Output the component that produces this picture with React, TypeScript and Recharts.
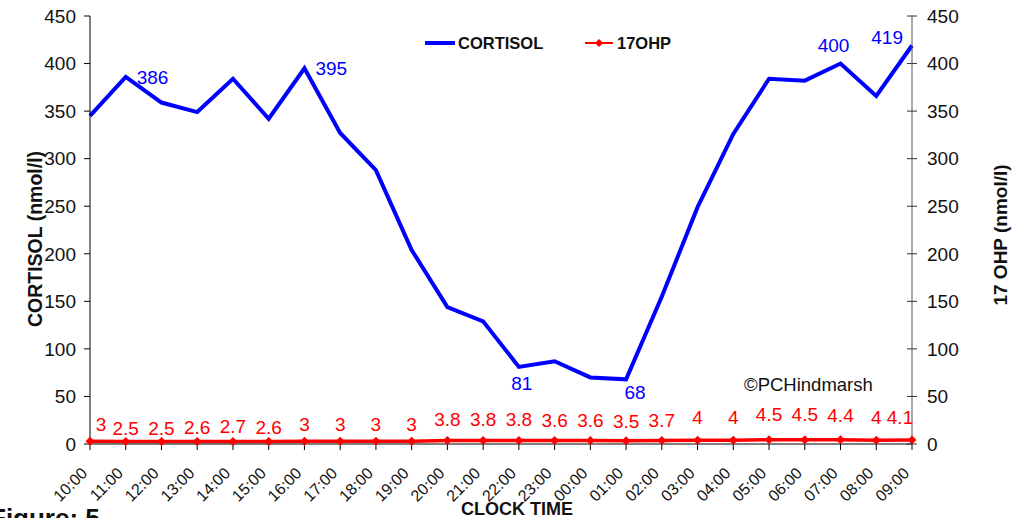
import React from "react";
import {
  LineChart,
  Line,
  XAxis,
  YAxis,
  Legend,
  LabelList,
} from "recharts";

const HOURS = [
  "10:00", "11:00", "12:00", "13:00", "14:00", "15:00", "16:00", "17:00",
  "18:00", "19:00", "20:00", "21:00", "22:00", "23:00", "00:00", "01:00",
  "02:00", "03:00", "04:00", "05:00", "06:00", "07:00", "08:00", "09:00",
];
const CORTISOL = [
  345, 386, 359, 349, 384, 342, 395, 327, 288, 204, 144, 129,
  81, 87, 70, 68, 155, 249, 326, 384, 382, 400, 366, 419,
];
const OHP17 = [
  3, 2.5, 2.5, 2.6, 2.7, 2.6, 3, 3, 3, 3, 3.8, 3.8,
  3.8, 3.6, 3.6, 3.5, 3.7, 4, 4, 4.5, 4.5, 4.4, 4, 4.1,
];
const Y_TICKS = [0, 50, 100, 150, 200, 250, 300, 350, 400, 450];
// which cortisol points get a value label, and where it sits
const CORTISOL_LABELS: Record<number, "right" | "below" | "belowRight" | "above" | "aboveLeft"> = {
  1: "right",
  6: "right",
  12: "below",
  15: "belowRight",
  21: "above",
  23: "aboveLeft",
};

const BLUE = "#0000ff";
const RED = "#ff0000";
const INK = "#111";
const FONT = "'Liberation Sans', Arial, sans-serif";

const data = HOURS.map((h, i) => ({ hour: h, cortisol: CORTISOL[i], ohp: OHP17[i] }));

function XTick({ x, y, payload }: any) {
  return (
    <g transform={`translate(${x},${y})`}>
      <text
        x={-17}
        y={9}
        transform="rotate(-45)"
        textAnchor="end"
        dominantBaseline="central"
        fontSize={16}
        fontFamily={FONT}
        fill={INK}
      >
        {payload.value}
      </text>
    </g>
  );
}

function RightTick({ x, y, payload }: any) {
  const ax = x - 15;
  return (
    <g>
      <line x1={ax - 5} x2={ax + 5} y1={y} y2={y} stroke="#333" />
      <text x={x} y={y} dy="0.355em" textAnchor="start" fontSize={19} fontFamily={FONT} fill={INK}>
        {payload.value}
      </text>
    </g>
  );
}

function Diamond({ cx, cy }: any) {
  if (cx == null || cy == null) return null;
  return <polygon points={`${cx},${cy - 4.5} ${cx + 4.5},${cy} ${cx},${cy + 4.5} ${cx - 4.5},${cy}`} fill={RED} />;
}

function CortisolLabel({ x, y, value, index }: any) {
  const pos = CORTISOL_LABELS[index];
  if (!pos) return null;
  let tx = x;
  let ty = y;
  let anchor: "start" | "middle" | "end" = "middle";
  if (pos === "right") {
    tx = x + 11;
    anchor = "start";
  } else if (pos === "below") {
    tx = x + 3;
    ty = y + 16;
  } else if (pos === "belowRight") {
    tx = x + 9;
    ty = y + 13;
  } else if (pos === "above") {
    tx = x - 7;
    ty = y - 18;
  } else {
    tx = x - 9;
    ty = y - 8;
    anchor = "end";
  }
  return (
    <text x={tx} y={ty} dy="0.355em" textAnchor={anchor} fontSize={19} fontFamily={FONT} fill={BLUE}>
      {value}
    </text>
  );
}

// Excel-style label: lifted more for larger values, kept inside the plot at the ends
function OhpLabel({ x, y, value, index }: any) {
  const lift = 6 * value - 1.5;
  let tx = x;
  if (index === 0) tx = x + 11;
  if (index === OHP17.length - 1) tx = x - 12;
  return (
    <text x={tx} y={y - lift} dy="0.355em" textAnchor="middle" fontSize={19} fontFamily={FONT} fill={RED}>
      {value}
    </text>
  );
}

function LegendBox() {
  return (
    <svg width={300} height={20} style={{ display: "block" }}>
      <line x1={5} x2={35} y1={10} y2={10} stroke={BLUE} strokeWidth={4} />
      <text x={38} y={10} dy="0.355em" fontFamily={FONT} fontWeight="bold" fontSize={16.5} fill={INK}>
        CORTISOL
      </text>
      <line x1={165} x2={193} y1={10} y2={10} stroke={RED} strokeWidth={2} />
      <polygon points="179,6 183,10 179,14 175,10" fill={RED} />
      <text x={197} y={10} dy="0.355em" fontFamily={FONT} fontWeight="bold" fontSize={16.5} fill={INK}>
        17OHP
      </text>
    </svg>
  );
}

export default function App() {
  return (
    <div style={{ position: "absolute", left: 0, top: 0, width: 1019, height: 518, background: "#fff", overflow: "hidden" }}>
      <LineChart
        width={1019}
        height={518}
        data={data}
        margin={{ top: 16, right: 32, left: 0, bottom: 14 }}
      >
        <XAxis
          dataKey="hour"
          interval={0}
          height={60}
          tick={<XTick />}
          tickSize={6}
          tickMargin={2}
          axisLine={{ stroke: "#000" }}
          tickLine={{ stroke: "#000" }}
        />
        <YAxis
          yAxisId="left"
          width={90}
          domain={[0, 450]}
          ticks={Y_TICKS}
          tickSize={6}
          tickMargin={8}
          tick={{ fontSize: 19, fontFamily: FONT, fill: INK }}
          axisLine={{ stroke: "#000" }}
          tickLine={{ stroke: "#000" }}
          label={({ viewBox }: any) => (
            <text
              transform={`translate(${viewBox.x + 35},${viewBox.y + viewBox.height / 2 + 9}) rotate(-90)`}
              textAnchor="middle"
              dominantBaseline="central"
              fontSize={19.5}
              fontWeight="bold"
              fontFamily={FONT}
              fill={INK}
            >
              CORTISOL (nmol/l)
            </text>
          )}
        />
        <YAxis
          yAxisId="right"
          orientation="right"
          width={75}
          domain={[0, 450]}
          ticks={Y_TICKS}
          tickSize={5}
          tickMargin={10}
          tickLine={false}
          tick={<RightTick />}
          axisLine={{ stroke: "#555" }}
          label={({ viewBox }: any) => (
            <text
              transform={`translate(${viewBox.x + 88},${viewBox.y + viewBox.height / 2 + 5}) rotate(-90)`}
              textAnchor="middle"
              dominantBaseline="central"
              fontSize={19}
              fontWeight="bold"
              fontFamily={FONT}
              fill={INK}
            >
              17 OHP (nmol/l)
            </text>
          )}
        />
        <Legend
          layout="horizontal"
          align="center"
          verticalAlign="middle"
          content={<LegendBox />}
          wrapperStyle={{ position: "absolute", top: 33, left: 420, width: 300 }}
        />
        <Line
          yAxisId="left"
          type="linear"
          dataKey="cortisol"
          name="CORTISOL"
          stroke={BLUE}
          strokeWidth={4}
          dot={false}
          isAnimationActive={false}
        >
          <LabelList dataKey="cortisol" content={<CortisolLabel />} />
        </Line>
        <Line
          yAxisId="right"
          type="linear"
          dataKey="ohp"
          name="17OHP"
          stroke={RED}
          strokeWidth={3.5}
          dot={<Diamond />}
          isAnimationActive={false}
        >
          <LabelList dataKey="ohp" content={<OhpLabel />} />
        </Line>
      </LineChart>
      <div style={{ position: "absolute", left: 744, top: 374, fontFamily: FONT, fontSize: 18.5, color: INK, whiteSpace: "nowrap" }}>
        ©PCHindmarsh
      </div>
      <div style={{ position: "absolute", left: 461, top: 499, fontFamily: FONT, fontSize: 18, fontWeight: "bold", color: INK, whiteSpace: "nowrap" }}>
        CLOCK TIME
      </div>
      <div style={{ position: "absolute", left: -10, top: 503, fontFamily: FONT, fontSize: 26, fontWeight: "bold", color: INK, whiteSpace: "nowrap" }}>
        Figure: 5
      </div>
    </div>
  );
}
